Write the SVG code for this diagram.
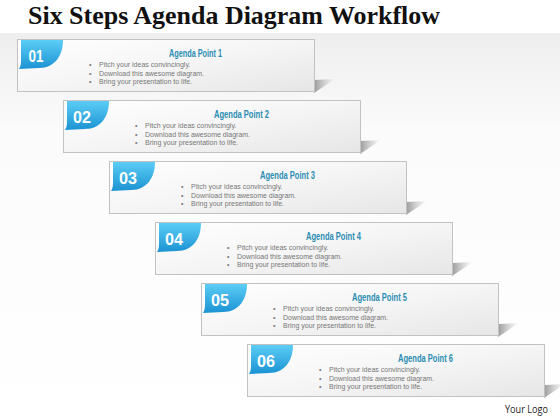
<svg xmlns="http://www.w3.org/2000/svg" width="560" height="420" viewBox="0 0 560 420">
<defs>
<linearGradient id="bg" x1="0" y1="0" x2="0" y2="1"><stop offset="0" stop-color="#eeeeee"/><stop offset="0.25" stop-color="#fbfbfb"/><stop offset="1" stop-color="#ffffff"/></linearGradient>
<linearGradient id="panel" x1="0" y1="0" x2="1" y2="1"><stop offset="0" stop-color="#ffffff"/><stop offset="0.5" stop-color="#f5f5f5"/><stop offset="1" stop-color="#e6e6e6"/></linearGradient>
<linearGradient id="badge" x1="0" y1="0" x2="0" y2="1"><stop offset="0" stop-color="#5ccdf6"/><stop offset="1" stop-color="#1b93d3"/></linearGradient>
<linearGradient id="shadow" x1="0" y1="0" x2="1" y2="0"><stop offset="0" stop-color="#9a9a9a"/><stop offset="1" stop-color="#bbbbbb" stop-opacity="0"/></linearGradient>
<style>
.panel{fill:url(#panel);stroke:#c2c2c2;stroke-width:1}
.badge{fill:url(#badge)}
.shadow{fill:url(#shadow)}
.num{font-family:"Liberation Sans",Arial,sans-serif;font-size:16px;font-weight:bold;fill:#ffffff;text-anchor:middle}
.label{font-family:"Liberation Sans",Arial,sans-serif;font-size:10.5px;font-weight:bold;fill:#2a8db3;text-anchor:middle}
.bul{font-family:"Liberation Sans",Arial,sans-serif;font-size:7px;fill:#777777}
</style>
<g id="card">
<polygon class="shadow" points="297,41 318,40 297,54"/>
<rect class="panel" x="0.5" y="0.5" width="297" height="52"/>
<path class="badge" d="M4,1 H46 C46,16 38,29 22,29 L2,30 C4,27 4,24 4,20 Z"/>
<text class="bul" x="72" y="28">•</text>
<text class="bul" x="82" y="28">Pitch your ideas convincingly.</text>
<text class="bul" x="72" y="36.5">•</text>
<text class="bul" x="82" y="36.5">Download this awesome diagram.</text>
<text class="bul" x="72" y="45">•</text>
<text class="bul" x="82" y="45">Bring your presentation to life.</text>
</g>
</defs>
<rect x="0" y="33" width="560" height="387" fill="url(#bg)"/>
<text x="28" y="24" font-family="'Liberation Serif','Times New Roman',serif" font-size="26" font-weight="bold" fill="#111111" textLength="412" lengthAdjust="spacingAndGlyphs">Six Steps Agenda Diagram Workflow</text>
<g id="step1" transform="translate(17,39)"><use href="#card"/><text class="num" x="19" y="23" textLength="15" lengthAdjust="spacingAndGlyphs">01</text><text class="label" x="178.5" y="17.5" textLength="53" lengthAdjust="spacingAndGlyphs">Agenda Point 1</text></g>
<g id="step2" transform="translate(63,100)"><use href="#card"/><text class="num" x="19" y="23" textLength="18" lengthAdjust="spacingAndGlyphs">02</text><text class="label" x="178.5" y="17.5" textLength="55" lengthAdjust="spacingAndGlyphs">Agenda Point 2</text></g>
<g id="step3" transform="translate(109,161)"><use href="#card"/><text class="num" x="19" y="23" textLength="18" lengthAdjust="spacingAndGlyphs">03</text><text class="label" x="178.5" y="17.5" textLength="55" lengthAdjust="spacingAndGlyphs">Agenda Point 3</text></g>
<g id="step4" transform="translate(155,222)"><use href="#card"/><text class="num" x="19" y="23" textLength="18" lengthAdjust="spacingAndGlyphs">04</text><text class="label" x="178.5" y="17.5" textLength="55" lengthAdjust="spacingAndGlyphs">Agenda Point 4</text></g>
<g id="step5" transform="translate(201,283)"><use href="#card"/><text class="num" x="19" y="23" textLength="18" lengthAdjust="spacingAndGlyphs">05</text><text class="label" x="178.5" y="17.5" textLength="55" lengthAdjust="spacingAndGlyphs">Agenda Point 5</text></g>
<g id="step6" transform="translate(247,344)"><use href="#card"/><text class="num" x="19" y="23" textLength="18" lengthAdjust="spacingAndGlyphs">06</text><text class="label" x="178.5" y="17.5" textLength="55" lengthAdjust="spacingAndGlyphs">Agenda Point 6</text></g>
<g id="connectors"/>
<text x="505" y="412.5" font-family="'Open Sans','Liberation Sans',sans-serif" font-size="11" fill="#222222" textLength="43" lengthAdjust="spacingAndGlyphs">Your Logo</text>
</svg>
